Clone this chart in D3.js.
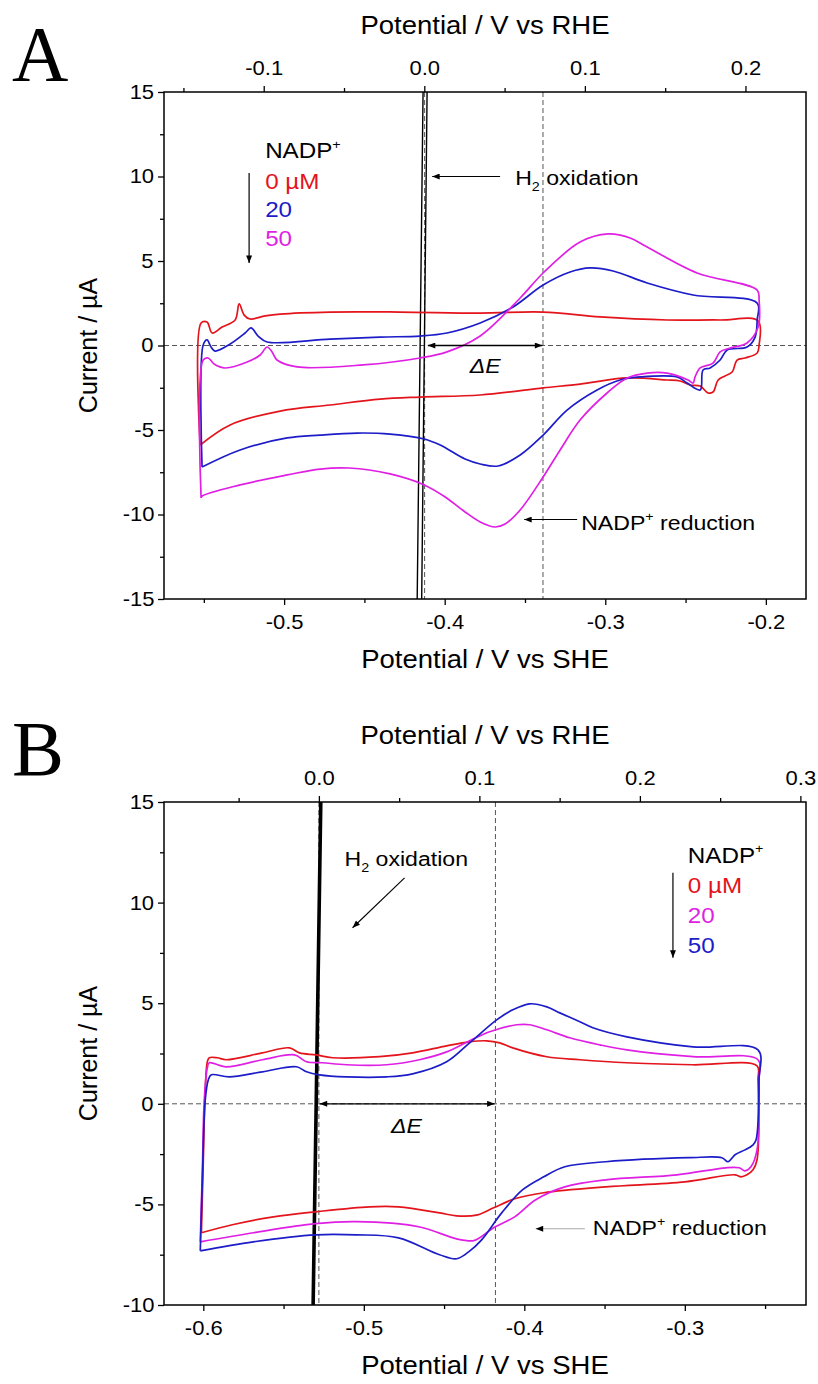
<!DOCTYPE html>
<html><head><meta charset="utf-8">
<script src="https://cdn.jsdelivr.net/npm/d3@7"></script>
<style>
body{margin:0;background:#fff;}
svg{display:block;background:#fff;}
text{font-family:"Liberation Sans",Arial,sans-serif;fill:#000;}
.sx{transform:scaleX(1.1);transform-box:fill-box;transform-origin:center;}
.sxl{transform:scaleX(1.1);transform-box:fill-box;transform-origin:left;}
.tick text{font-size:20px;font-family:"Liberation Sans",Arial,sans-serif;}
</style></head><body>
<svg id="c" width="818" height="1384"></svg>
<script>
// ---------------- DATA ----------------
// Panel A: potential (V vs SHE), current (µA)
const aRed0 = [[-0.5523,-5.89],[-0.5517,1.33],[-0.5480,1.39],[-0.5448,0.74],[-0.5386,1.09],[-0.5305,1.51],[-0.5280,2.46],[-0.5249,1.80],[-0.5212,1.57],[-0.5118,1.75],[-0.5025,1.86],[-0.4714,1.98],[-0.4278,1.98],[-0.3779,1.92],[-0.3387,1.98],[-0.3032,1.69],[-0.2615,1.51],[-0.2285,1.51],[-0.2048,1.45],[-0.2042,0.03],[-0.2054,-0.44],[-0.2129,-0.74],[-0.2179,-0.86],[-0.2210,-1.57],[-0.2254,-1.80],[-0.2297,-2.04],[-0.2329,-2.75],[-0.2360,-2.81],[-0.2409,-2.40],[-0.2472,-2.34],[-0.2534,-2.10],[-0.2615,-2.04],[-0.2864,-1.92],[-0.3157,-2.28],[-0.3387,-2.51],[-0.3779,-2.93],[-0.4153,-3.05],[-0.4402,-3.17],[-0.4714,-3.52],[-0.5025,-3.88],[-0.5336,-4.70],[-0.5523,-5.89]];
const aBlue20 = [[-0.5511,-7.19],[-0.5504,0.03],[-0.5480,0.33],[-0.5455,-0.09],[-0.5430,-0.33],[-0.5336,0.09],[-0.5243,0.74],[-0.5206,1.04],[-0.5162,0.56],[-0.5106,0.21],[-0.4714,0.38],[-0.4402,0.50],[-0.4153,0.56],[-0.3985,0.74],[-0.3779,1.33],[-0.3574,2.28],[-0.3387,3.58],[-0.3219,4.35],[-0.3094,4.59],[-0.2951,4.41],[-0.2739,3.70],[-0.2453,2.99],[-0.2054,2.51],[-0.2054,1.51],[-0.2067,0.50],[-0.2117,-0.09],[-0.2241,-0.27],[-0.2285,-0.86],[-0.2347,-1.33],[-0.2391,-1.45],[-0.2409,-2.63],[-0.2490,-2.22],[-0.2553,-1.86],[-0.2783,-1.86],[-0.2908,-2.04],[-0.3051,-2.63],[-0.3238,-3.82],[-0.3387,-5.30],[-0.3530,-6.48],[-0.3667,-7.13],[-0.3779,-7.01],[-0.3873,-6.72],[-0.4028,-5.89],[-0.4128,-5.53],[-0.4340,-5.24],[-0.4545,-5.18],[-0.4776,-5.30],[-0.4981,-5.47],[-0.5274,-6.18],[-0.5511,-7.19]];
const aMag50 = [[-0.5517,-9.02],[-0.5504,-0.86],[-0.5473,-0.74],[-0.5436,-1.09],[-0.5367,-1.33],[-0.5230,-0.98],[-0.5149,-0.56],[-0.5106,-0.09],[-0.5075,-0.38],[-0.5044,-0.86],[-0.4919,-1.27],[-0.4508,-1.15],[-0.4153,-0.74],[-0.3985,-0.38],[-0.3779,0.56],[-0.3530,2.81],[-0.3387,4.29],[-0.3157,6.12],[-0.2982,6.60],[-0.2845,6.36],[-0.2739,5.83],[-0.2428,4.29],[-0.2054,3.28],[-0.2042,2.69],[-0.2048,1.09],[-0.2117,0.15],[-0.2223,-0.15],[-0.2285,-0.38],[-0.2329,-1.04],[-0.2409,-1.33],[-0.2441,-1.86],[-0.2453,-2.22],[-0.2484,-2.04],[-0.2615,-1.63],[-0.2739,-1.63],[-0.2864,-1.92],[-0.2989,-2.81],[-0.3157,-4.41],[-0.3281,-6.18],[-0.3387,-7.78],[-0.3530,-9.73],[-0.3624,-10.56],[-0.3686,-10.74],[-0.3779,-10.44],[-0.3873,-9.85],[-0.3997,-8.96],[-0.4128,-8.25],[-0.4340,-7.60],[-0.4595,-7.25],[-0.4776,-7.31],[-0.4981,-7.66],[-0.5274,-8.25],[-0.5511,-8.91],[-0.5517,-9.02]];
const aH2 = [[-0.4172,-15.6],[-0.4134,15.6],[-0.4109,15.6],[-0.4144,-15.6]];

// Panel B
const bRed0 = [[-0.6012,-6.41],[-0.6000,-2.78],[-0.5988,0.70],[-0.5975,2.09],[-0.5963,2.29],[-0.5913,2.29],[-0.5857,2.19],[-0.5632,2.53],[-0.5463,2.78],[-0.5401,2.53],[-0.5295,2.43],[-0.5195,2.29],[-0.4902,2.34],[-0.4696,2.53],[-0.4484,2.88],[-0.4341,3.08],[-0.4235,3.13],[-0.4153,3.03],[-0.4072,2.78],[-0.3860,2.34],[-0.3654,2.19],[-0.3361,2.04],[-0.2949,1.94],[-0.2550,1.89],[-0.2544,1.19],[-0.2550,-2.78],[-0.2575,-3.28],[-0.2613,-3.53],[-0.2650,-3.63],[-0.2687,-3.53],[-0.2999,-3.88],[-0.3492,-4.13],[-0.3879,-4.42],[-0.4060,-4.72],[-0.4191,-5.17],[-0.4291,-5.52],[-0.4422,-5.57],[-0.4528,-5.42],[-0.4784,-5.12],[-0.4964,-5.12],[-0.5301,-5.37],[-0.5563,-5.62],[-0.5819,-6.01],[-0.6012,-6.41]];
const bMag20 = [[-0.6019,-6.86],[-0.6006,-3.28],[-0.5994,0.20],[-0.5975,1.79],[-0.5963,2.04],[-0.5857,1.84],[-0.5632,2.19],[-0.5432,2.43],[-0.5357,2.09],[-0.5258,2.04],[-0.5108,1.94],[-0.4858,1.94],[-0.4653,2.19],[-0.4484,2.58],[-0.4341,3.13],[-0.4216,3.58],[-0.4047,3.93],[-0.3966,3.93],[-0.3860,3.68],[-0.3717,3.28],[-0.3530,2.93],[-0.3361,2.68],[-0.2949,2.34],[-0.2544,2.19],[-0.2538,1.19],[-0.2550,-2.29],[-0.2588,-3.13],[-0.2625,-3.33],[-0.2662,-3.18],[-0.2744,-3.18],[-0.3049,-3.53],[-0.3492,-3.78],[-0.3748,-4.13],[-0.3929,-4.77],[-0.4060,-5.62],[-0.4191,-6.16],[-0.4278,-6.66],[-0.4322,-6.81],[-0.4422,-6.71],[-0.4659,-6.11],[-0.5046,-5.86],[-0.5301,-5.96],[-0.5688,-6.41],[-0.6019,-6.86]];
const bBlue50 = [[-0.6019,-7.31],[-0.6006,-3.78],[-0.5988,0.20],[-0.5969,1.19],[-0.5950,1.44],[-0.5838,1.34],[-0.5632,1.59],[-0.5420,1.84],[-0.5357,1.59],[-0.5276,1.44],[-0.5108,1.34],[-0.4858,1.34],[-0.4696,1.49],[-0.4484,2.09],[-0.4341,3.03],[-0.4172,4.17],[-0.4072,4.67],[-0.3966,4.97],[-0.3860,4.82],[-0.3779,4.52],[-0.3654,4.08],[-0.3573,3.78],[-0.3361,3.33],[-0.2949,2.83],[-0.2544,2.68],[-0.2538,1.19],[-0.2556,-1.79],[-0.2575,-2.04],[-0.2625,-2.29],[-0.2687,-2.53],[-0.2731,-2.88],[-0.2769,-2.68],[-0.2974,-2.68],[-0.3492,-2.88],[-0.3748,-3.13],[-0.3879,-3.63],[-0.4010,-4.27],[-0.4141,-5.42],[-0.4266,-6.76],[-0.4347,-7.36],[-0.4422,-7.70],[-0.4528,-7.50],[-0.4784,-6.66],[-0.5046,-6.51],[-0.5301,-6.51],[-0.5688,-6.86],[-0.6019,-7.31]];
const bH2 = [[-0.5322,-10.6],[-0.5272,15.6],[-0.5262,15.6],[-0.5312,-10.6]];

// ticks
const aSheTicks=[-0.5,-0.4,-0.3,-0.2], aSheMinor=[-0.55,-0.45,-0.35,-0.25];
const aRheTicks=[-0.1,0.0,0.1,0.2], aRheMinor=[-0.15,-0.05,0.05,0.15];
const aCurTicks=[-15,-10,-5,0,5,10,15], aCurMinor=[-12.5,-7.5,-2.5,2.5,7.5,12.5];
const bSheTicks=[-0.6,-0.5,-0.4,-0.3], bSheMinor=[-0.55,-0.45,-0.35,-0.25];
const bRheTicks=[0.0,0.1,0.2,0.3], bRheMinor=[-0.05,0.05,0.15,0.25];
const bCurTicks=[-10,-5,0,5,10,15], bCurMinor=[-7.5,-2.5,2.5,7.5,12.5];

// legend labels
const aLegend=["0 µM","20","50"];
const bLegend=["0 µM","20","50"];
const RED="#e3141b", BLUE="#1c1cc8", MAG="#e01fe4";

// ---------------- DRAW ----------------
const svg=d3.select("#c");
const defs=svg.append("defs");
defs.append("marker").attr("id","ah").attr("viewBox","0 0 10 8").attr("refX",10).attr("refY",4)
  .attr("markerWidth",9).attr("markerHeight",6).attr("markerUnits","userSpaceOnUse")
  .attr("orient","auto-start-reverse").append("path").attr("d","M0,0L10,4L0,8z").attr("fill","#000");

const L=164,R=806;
const f1=v=>v.toFixed(1);

function richText(g,x,y,parts,size,color,cls){
  const t=g.append("text").attr("x",x).attr("y",y).style("font-size",size+"px").attr("class",cls||"sxl");
  if(color) t.style("fill",color);
  let shift=0;
  parts.forEach(p=>{
    const ts=t.append("tspan").text(p.t);
    let target=0;
    if(p.sup){ts.style("font-size",Math.round(size*0.6)+"px");target=-size*0.42;}
    else if(p.sub){ts.style("font-size",Math.round(size*0.6)+"px");target=size*0.3;}
    if(p.it) ts.style("font-style","italic");
    ts.attr("dy",target-shift); shift=target;
  });
  return t;
}

function panel(p){
  const x=d3.scaleLinear().domain(p.sheDom).range([L,R]);
  const xr=d3.scaleLinear().domain(p.sheDom.map(v=>v+p.rheOff)).range([L,R]);
  const y=d3.scaleLinear().domain(p.curDom).range([p.bottom,p.top]);
  const g=svg.append("g");
  const cid="clip"+p.name;
  defs.append("clipPath").attr("id",cid).append("rect").attr("x",L).attr("y",p.top).attr("width",R-L).attr("height",p.bottom-p.top);
  const pg=g.append("g").attr("clip-path",`url(#${cid})`);
  // dashed guides
  const dash={stroke:"#555","stroke-width":1,"stroke-dasharray":"5,3"};
  const hl=pg.append("line").attr("x1",L).attr("x2",R).attr("y1",y(0)).attr("y2",y(0));
  Object.entries(dash).forEach(([k,v])=>hl.attr(k,v));
  p.vDash.forEach(e=>{const l=pg.append("line").attr("x1",x(e)).attr("x2",x(e)).attr("y1",p.top).attr("y2",p.bottom);Object.entries(dash).forEach(([k,v])=>l.attr(k,v));});
  const line=d3.line().x(d=>x(d[0])).y(d=>y(d[1])).curve(d3.curveCatmullRom.alpha(0.5));
  const lineLin=d3.line().x(d=>x(d[0])).y(d=>y(d[1]));
  // H2 oxidation trace
  pg.append("path").datum(p.h2).attr("d",lineLin).attr("fill","none").attr("stroke","#000").attr("stroke-width",p.h2w);
  p.series.forEach(s=>{
    pg.append("path").datum(s.data).attr("d",line).attr("fill","none").attr("stroke",s.color).attr("stroke-width",1.7).attr("stroke-linejoin","round");
  });
  // frame
  g.append("rect").attr("x",L).attr("y",p.top).attr("width",R-L).attr("height",p.bottom-p.top).attr("fill","none").attr("stroke","#000").attr("stroke-width",1.5);
  // axes
  function ax(gen,tr,vals,size,fmt,pad){
    const a=g.append("g").attr("transform",tr).call(gen.tickValues(vals).tickSize(size).tickSizeOuter(0).tickPadding(pad).tickFormat(fmt));
    a.select(".domain").remove();
    a.attr("font-size",null).attr("font-family",null);
    a.selectAll(".tick line").attr("stroke-width",1.3);
    a.selectAll(".tick text").attr("class","sx");
  }
  ax(d3.axisBottom(x),`translate(0,${p.bottom})`,p.sheTicks,6,f1,10);
  ax(d3.axisBottom(x),`translate(0,${p.bottom})`,p.sheMinor,4,()=>"",10);
  ax(d3.axisTop(xr),`translate(0,${p.top})`,p.rheTicks,6,f1,11);
  ax(d3.axisTop(xr),`translate(0,${p.top})`,p.rheMinor,4,()=>"",11);
  ax(d3.axisLeft(y),`translate(${L},0)`,p.curTicks,6,d=>String(d),5);
  ax(d3.axisLeft(y),`translate(${L},0)`,p.curMinor,4,()=>"",5);
  // titles
  g.append("text").attr("x",(L+R)/2).attr("y",p.top-58).attr("text-anchor","middle").attr("class","sx").style("font-size","25px").text("Potential / V vs RHE");
  g.append("text").attr("x",(L+R)/2).attr("y",p.bottom+69).attr("text-anchor","middle").attr("class","sx").style("font-size","25px").text("Potential / V vs SHE");
  g.append("g").attr("transform",`translate(97,${(p.top+p.bottom)/2}) rotate(-90)`)
    .append("text").attr("text-anchor","middle").style("font-size","25px").text("Current / µA");
  // panel letter
  g.append("text").attr("x",12).attr("y",p.letterY).style("font-family","'Liberation Serif','Times New Roman',serif").style("font-size","78px").text(p.name);
  // legend
  const lg=p.legend;
  richText(g,x(lg.e),y(lg.i0)+8,[{t:"NADP"},{t:"+",sup:true}],22,null);
  lg.labels.forEach((t,i)=>{
    richText(g,x(lg.e),y(lg.rows[i])+8,[{t:t}],22,lg.colors[i]);
  });
  g.append("line").attr("x1",x(lg.ae)).attr("x2",x(lg.ae)).attr("y1",y(lg.a0)).attr("y2",y(lg.a1)).attr("stroke","#000").attr("stroke-width",1.2).attr("marker-end","url(#ah)");
  // annotations
  const an=p.ann;
  // H2 oxidation
  richText(g,x(an.h2t[0]),y(an.h2t[1])+8,[{t:"H"},{t:"2",sub:true},{t:" oxidation"}],21,null);
  g.append("line").attr("x1",x(an.h2a[0])).attr("y1",y(an.h2a[1])).attr("x2",x(an.h2a[2])).attr("y2",y(an.h2a[3])).attr("stroke","#000").attr("stroke-width",1.1).attr("marker-end","url(#ah)");
  // ΔE
  g.append("line").attr("x1",x(an.de[0])).attr("x2",x(an.de[1])).attr("y1",y(0)).attr("y2",y(0)).attr("stroke","#000").attr("stroke-width",1.3).attr("marker-start","url(#ah)").attr("marker-end","url(#ah)");
  richText(g,x(an.det[0]),y(an.det[1])+8,[{t:"ΔE",it:true}],21,null,"sx").attr("text-anchor","middle");
  // NADP+ reduction
  richText(g,x(an.rt[0]),y(an.rt[1])+8,[{t:"NADP"},{t:"+",sup:true},{t:" reduction"}],21,null);
  g.append("line").attr("x1",x(an.ra[0])).attr("x2",x(an.ra[1])).attr("y1",y(an.ra[2])).attr("y2",y(an.ra[2])).attr("stroke",an.rc).attr("stroke-width",1.1).attr("marker-end","url(#ah)");
}

panel({name:"A",top:92,bottom:599,letterY:80,sheDom:[-0.5748,-0.175],rheOff:0.4127,curDom:[-15,15],
  sheTicks:aSheTicks,sheMinor:aSheMinor,rheTicks:aRheTicks,rheMinor:aRheMinor,curTicks:aCurTicks,curMinor:aCurMinor,
  vDash:[-0.4125,-0.3388],h2:aH2,h2w:1.4,
  series:[{data:aRed0,color:RED},{data:aBlue20,color:BLUE},{data:aMag50,color:MAG}],
  legend:{e:-0.5118,i0:11.57,rows:[9.73,8.08,6.36],labels:aLegend,colors:[RED,BLUE,MAG],ae:-0.5218,a0:10.2,a1:4.88},
  ann:{h2t:[-0.3561,9.97],h2a:[-0.3655,10,-0.4078,10],de:[-0.4105,-0.3392],det:[-0.3748,-1.15],rt:[-0.315,-10.44],ra:[-0.3175,-0.3505,-10.3],rc:"#000"}
});
panel({name:"B",top:802,bottom:1305,letterY:775,sheDom:[-0.6245,-0.2245],rheOff:0.528,curDom:[-10,15],
  sheTicks:bSheTicks,sheMinor:bSheMinor,rheTicks:bRheTicks,rheMinor:bRheMinor,curTicks:bCurTicks,curMinor:bCurMinor,
  vDash:[-0.528,-0.418],h2:bH2,h2w:2,
  series:[{data:bRed0,color:RED},{data:bMag20,color:MAG},{data:bBlue50,color:BLUE}],
  legend:{e:-0.2981,i0:12.38,rows:[10.88,9.39,7.90],labels:bLegend,colors:[RED,MAG,BLUE],ae:-0.3074,a0:11.48,a1:7.26},
  ann:{h2t:[-0.512,12.23],h2a:[-0.4746,11.23,-0.507,8.75],de:[-0.5275,-0.4185],det:[-0.4734,-1.04],rt:[-0.3573,-6.11],ra:[-0.3623,-0.3929,-6.21],rc:"#aaa"}
});
</script>
</body></html>
